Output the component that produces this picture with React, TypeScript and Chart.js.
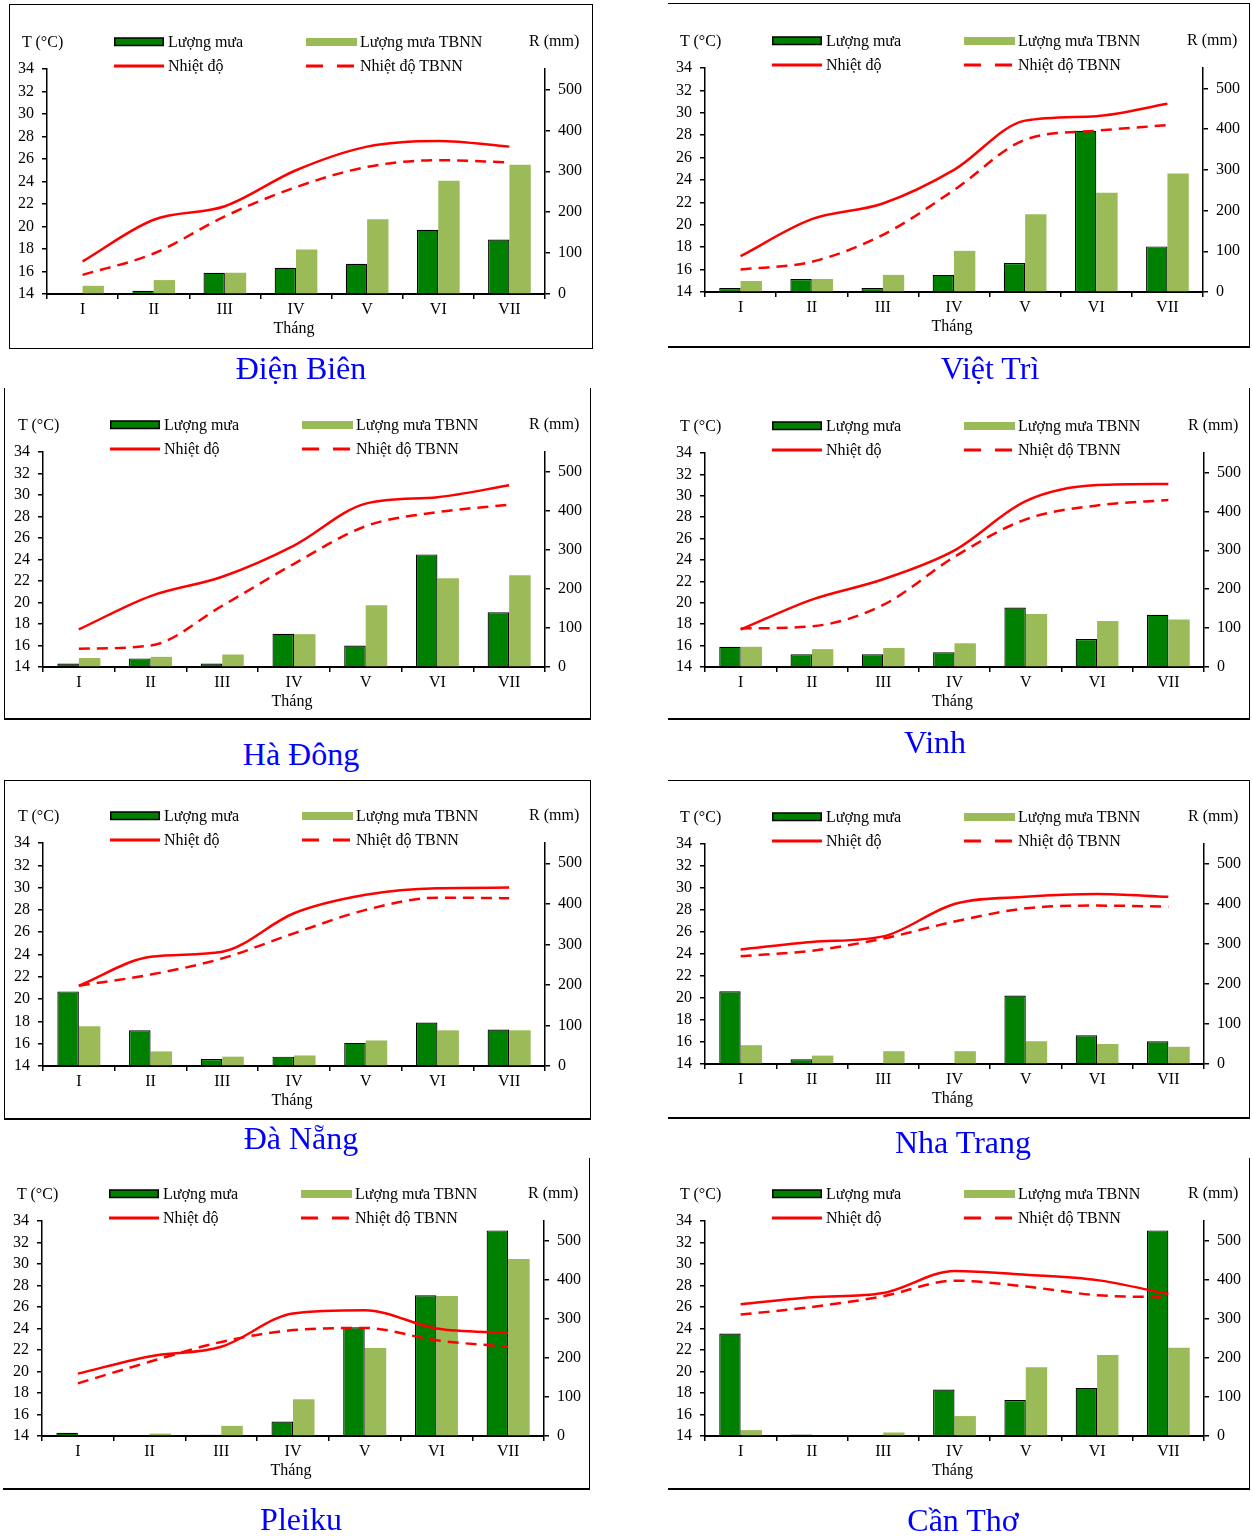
import React, { useEffect, useRef } from "react";
import { Chart, registerables } from "chart.js";

Chart.register(...registerables);

const months = ["I", "II", "III", "IV", "V", "VI", "VII"];

// Điện Biên
const dienBienRain = [0, 8, 52, 64, 74, 157, 133];
const dienBienRainNorm = [20, 34, 52, 109, 183, 277, 316];
const dienBienTemp = [16.9, 20.6, 21.8, 25.0, 27.1, 27.6, 27.1];
const dienBienTempNorm = [15.7, 17.6, 20.9, 23.5, 25.3, 25.9, 25.7];

// Việt Trì
const vietTriRain = [10, 32, 10, 42, 71, 396, 112];
const vietTriRainNorm = [27, 32, 42, 101, 191, 244, 291];
const vietTriTemp = [17.2, 20.5, 21.9, 24.9, 29.3, 29.7, 30.8];
const vietTriTempNorm = [16.0, 16.7, 19.1, 23.1, 27.6, 28.4, 28.9];

// Hà Đông
const haDongRain = [9, 22, 9, 85, 55, 288, 140];
const haDongRainNorm = [23, 26, 32, 84, 158, 227, 235];
const haDongTemp = [17.5, 20.6, 22.4, 25.3, 29.2, 29.8, 30.9];
const haDongTempNorm = [15.7, 16.0, 19.7, 23.6, 27.1, 28.4, 29.1];

// Vinh
const vinhRain = [52, 33, 33, 38, 153, 72, 134];
const vinhRainNorm = [52, 46, 49, 61, 136, 118, 122];
const vinhTemp = [17.5, 20.3, 22.2, 24.9, 29.5, 31.0, 31.1];
const vinhTempNorm = [17.6, 17.8, 19.8, 24.3, 27.8, 29.1, 29.6];

// Đà Nẵng
const daNangRain = [184, 88, 17, 23, 57, 107, 90];
const daNangRainNorm = [98, 36, 23, 26, 63, 88, 88];
const daNangTemp = [21.2, 23.8, 24.25, 27.7, 29.35, 29.95, 30.0];
const daNangTempNorm = [21.2, 22.2, 23.65, 25.9, 28.0, 29.1, 29.05];

// Nha Trang
const nhaTrangRain = [182, 12, 2, 2, 171, 72, 57];
const nhaTrangRainNorm = [47, 21, 32, 32, 57, 50, 43];
const nhaTrangTemp = [24.4, 25.1, 25.6, 28.55, 29.2, 29.45, 29.2];
const nhaTrangTempNorm = [23.8, 24.3, 25.4, 26.95, 28.15, 28.4, 28.3];

// Pleiku
const pleikuRain = [8, 0, 3, 37, 278, 360, 526];
const pleikuRainNorm = [0, 6, 26, 94, 225, 358, 453];
const pleikuTemp = [19.8, 21.4, 22.3, 25.4, 25.7, 24.0, 23.6];
const pleikuTempNorm = [18.9, 20.9, 22.75, 23.85, 24.05, 22.9, 22.3];

// Cần Thơ
const canThoRain = [262, 4, 0, 119, 92, 123, 526];
const canThoRainNorm = [15, 0, 9, 51, 176, 207, 226];
const canThoTemp = [26.25, 26.9, 27.3, 29.35, 29.0, 28.5, 27.2];
const canThoTempNorm = [25.3, 26.0, 27.0, 28.45, 27.9, 27.1, 26.9];

const stationNames = ["Điện Biên", "Việt Trì", "Hà Đông", "Vinh", "Đà Nẵng", "Nha Trang", "Pleiku", "Cần Thơ"];

type Station = { name: string; rain: number[]; rainNorm: number[]; temp: number[]; tempNorm: number[] };

const stations: Station[] = [
  { name: stationNames[0], rain: dienBienRain, rainNorm: dienBienRainNorm, temp: dienBienTemp, tempNorm: dienBienTempNorm },
  { name: stationNames[1], rain: vietTriRain, rainNorm: vietTriRainNorm, temp: vietTriTemp, tempNorm: vietTriTempNorm },
  { name: stationNames[2], rain: haDongRain, rainNorm: haDongRainNorm, temp: haDongTemp, tempNorm: haDongTempNorm },
  { name: stationNames[3], rain: vinhRain, rainNorm: vinhRainNorm, temp: vinhTemp, tempNorm: vinhTempNorm },
  { name: stationNames[4], rain: daNangRain, rainNorm: daNangRainNorm, temp: daNangTemp, tempNorm: daNangTempNorm },
  { name: stationNames[5], rain: nhaTrangRain, rainNorm: nhaTrangRainNorm, temp: nhaTrangTemp, tempNorm: nhaTrangTempNorm },
  { name: stationNames[6], rain: pleikuRain, rainNorm: pleikuRainNorm, temp: pleikuTemp, tempNorm: pleikuTempNorm },
  { name: stationNames[7], rain: canThoRain, rainNorm: canThoRainNorm, temp: canThoTemp, tempNorm: canThoTempNorm },
];

const legendLabels = ["Lượng mưa", "Lượng mưa TBNN", "Nhiệt độ", "Nhiệt độ TBNN"];
const tempAxisTitle = "T (°C)";
const rainAxisTitle = "R (mm)";
const xAxisTitle = "Tháng";

// Layout (page coordinates)
type Layout = {
  box: { x: number; y: number; w: number; h: number };
  plot: { l: number; r: number; t: number; b: number };
  borders: [number, number, number, number]; // top right bottom left
  title: { x: number; y: number };
};

const layouts: Layout[] = [
  { box: { x: 9, y: 4, w: 584, h: 345 }, plot: { l: 47, r: 545, t: 69, b: 294 }, borders: [1.5, 1.5, 1.5, 1.5], title: { x: 301, y: 368 } },
  { box: { x: 668, y: 3, w: 582, h: 345 }, plot: { l: 705, r: 1203, t: 68, b: 292 }, borders: [1.5, 1.5, 2.5, 0], title: { x: 990, y: 368 } },
  { box: { x: 4, y: 388, w: 587, h: 332 }, plot: { l: 43, r: 545, t: 452, b: 667 }, borders: [0, 1.5, 2.5, 1.5], title: { x: 301, y: 754 } },
  { box: { x: 668, y: 388, w: 582, h: 332 }, plot: { l: 705, r: 1204, t: 453, b: 667 }, borders: [0, 1.5, 2.5, 0], title: { x: 935, y: 742 } },
  { box: { x: 4, y: 780, w: 587, h: 340 }, plot: { l: 43, r: 545, t: 843, b: 1066 }, borders: [1.5, 1.5, 2.5, 1.5], title: { x: 301, y: 1138 } },
  { box: { x: 668, y: 780, w: 582, h: 339 }, plot: { l: 705, r: 1204, t: 844, b: 1064 }, borders: [1.5, 1.5, 2.5, 0], title: { x: 963, y: 1142 } },
  { box: { x: 3, y: 1158, w: 587, h: 332 }, plot: { l: 42, r: 544, t: 1221, b: 1436 }, borders: [0, 1.5, 2.5, 0], title: { x: 301, y: 1519 } },
  { box: { x: 668, y: 1158, w: 582, h: 332 }, plot: { l: 705, r: 1204, t: 1221, b: 1436 }, borders: [0, 1.5, 2.5, 0], title: { x: 963, y: 1520 } },
];

const FONT = "'Liberation Serif', 'Times New Roman', Times, serif";
const DARK = "#008000";
const LIGHT = "#9BBB59";
const RED = "#FF0000";

function Panel({ st, lay }: { st: Station; lay: Layout }) {
  const ref = useRef<HTMLCanvasElement>(null);
  const { box, plot } = lay;

  useEffect(() => {
    const leftW = plot.l - box.x;
    const rightW = box.x + box.w - plot.r;
    const bottomH = box.y + box.h - plot.b;
    const topPad = plot.t - box.y;
    const tickFont = { family: FONT, size: 16 };
    const chart = new Chart(ref.current as HTMLCanvasElement, {
      type: "bar",
      data: {
        labels: months,
        datasets: [
          {
            type: "line",
            label: legendLabels[2],
            data: st.temp,
            yAxisID: "yT",
            borderColor: RED,
            backgroundColor: RED,
            borderWidth: 2.5,
            pointRadius: 0,
            cubicInterpolationMode: "monotone",
            fill: false,
            order: 0,
          } as any,
          {
            type: "line",
            label: legendLabels[3],
            data: st.tempNorm,
            yAxisID: "yT",
            borderColor: RED,
            backgroundColor: RED,
            borderWidth: 2.5,
            borderDash: [11, 7],
            pointRadius: 0,
            cubicInterpolationMode: "monotone",
            fill: false,
            order: 1,
          } as any,
          {
            type: "bar",
            label: legendLabels[0],
            data: st.rain,
            yAxisID: "yR",
            backgroundColor: DARK,
            borderColor: "#000",
            borderWidth: (c: any) => (c.raw > 0 ? 1.2 : 0),
            categoryPercentage: 0.6,
            barPercentage: 1,
            order: 2,
          } as any,
          {
            type: "bar",
            label: legendLabels[1],
            data: st.rainNorm,
            yAxisID: "yR",
            backgroundColor: LIGHT,
            borderWidth: 0,
            categoryPercentage: 0.6,
            barPercentage: 1,
            order: 3,
          } as any,
        ],
      },
      options: {
        animation: false,
        responsive: false,
        maintainAspectRatio: false,
        layout: { padding: { top: topPad, left: 0, right: 0, bottom: 0 } },
        plugins: { legend: { display: false }, tooltip: { enabled: false } },
        scales: {
          x: {
            offset: true,
            grid: { offset: true, drawOnChartArea: false, drawTicks: true, tickLength: 5, color: "#000", lineWidth: 1.5 },
            border: { display: true, color: "#000", width: 2 },
            ticks: { color: "#000", font: tickFont, padding: 1, maxRotation: 0, autoSkip: false },
            afterFit: (s: any) => {
              s.height = bottomH;
            },
          },
          yT: {
            position: "left",
            min: 14,
            max: 34,
            ticks: { stepSize: 2, color: "#000", font: tickFont, padding: 8, autoSkip: false },
            grid: { drawOnChartArea: false, drawTicks: true, tickLength: 5, color: "#000", lineWidth: 1.5 },
            border: { display: true, color: "#000", width: 1.5 },
            afterFit: (s: any) => {
              s.width = leftW;
            },
          },
          yR: {
            position: "right",
            min: 0,
            max: 550,
            ticks: { stepSize: 100, color: "#000", font: tickFont, padding: 8, autoSkip: false },
            grid: { drawOnChartArea: false, drawTicks: true, tickLength: 5, color: "#000", lineWidth: 1.5 },
            border: { display: true, color: "#000", width: 1.5 },
            afterBuildTicks: (s: any) => {
              s.ticks = s.ticks.filter((t: any) => t.value % 100 === 0);
            },
            afterFit: (s: any) => {
              s.width = rightW;
            },
          },
        } as any,
      },
    });
    return () => chart.destroy();
  }, [st, lay]);

  const [bt, br, bb, bl] = lay.borders;
  const textStyle = (left: number, cy: number, extra: React.CSSProperties = {}): React.CSSProperties => ({
    position: "absolute",
    left,
    top: cy - 10,
    height: 20,
    lineHeight: "20px",
    fontFamily: FONT,
    fontSize: 16,
    color: "#000",
    whiteSpace: "nowrap",
    ...extra,
  });
  const row1 = plot.t - 27;
  const row2 = plot.t - 3;
  const L = plot.l;

  return (
    <>
      <div
        style={{
          position: "absolute",
          left: box.x,
          top: box.y,
          width: box.w,
          height: box.h,
          boxSizing: "border-box",
          borderTop: bt ? `${bt}px solid #000` : "none",
          borderRight: br ? `${br}px solid #000` : "none",
          borderBottom: bb ? `${bb}px solid #000` : "none",
          borderLeft: bl ? `${bl}px solid #000` : "none",
        }}
      />
      <canvas
        ref={ref}
        width={box.w}
        height={box.h}
        style={{ position: "absolute", left: box.x, top: box.y, width: box.w, height: box.h }}
      />
      <div style={textStyle(L - 25, row1)}>{tempAxisTitle}</div>
      <div style={textStyle(plot.r - 16, row1 - 1)}>{rainAxisTitle}</div>
      <svg style={{ position: "absolute", left: L + 67, top: row1 - 5 }} width={50} height={10}>
        <rect x={0.75} y={1} width={48.5} height={7.5} fill={DARK} stroke="#000" strokeWidth={1.5} />
      </svg>
      <div style={textStyle(L + 121, row1)}>{legendLabels[0]}</div>
      <svg style={{ position: "absolute", left: L + 259, top: row1 - 5 }} width={51} height={10}>
        <rect x={0} y={1} width={51} height={8} fill={LIGHT} />
      </svg>
      <div style={textStyle(L + 313, row1)}>{legendLabels[1]}</div>
      <svg style={{ position: "absolute", left: L + 67, top: row2 - 5 }} width={50} height={10}>
        <line x1={0} y1={5} x2={50} y2={5} stroke={RED} strokeWidth={3} />
      </svg>
      <div style={textStyle(L + 121, row2)}>{legendLabels[2]}</div>
      <svg style={{ position: "absolute", left: L + 259, top: row2 - 5 }} width={51} height={10}>
        <line x1={0} y1={5} x2={51} y2={5} stroke={RED} strokeWidth={3} strokeDasharray="17 14" />
      </svg>
      <div style={textStyle(L + 313, row2)}>{legendLabels[3]}</div>
      <div
        style={textStyle((plot.l + plot.r) / 2 - 60, plot.b + 34, { width: 116, textAlign: "center" })}
      >
        {xAxisTitle}
      </div>
      <div
        style={{
          position: "absolute",
          left: lay.title.x - 150,
          top: lay.title.y - 20,
          width: 300,
          height: 40,
          lineHeight: "40px",
          textAlign: "center",
          fontFamily: FONT,
          fontSize: 32,
          color: "#0000FF",
          whiteSpace: "nowrap",
        }}
      >
        {st.name}
      </div>
    </>
  );
}

export default function App() {
  return (
    <div style={{ position: "absolute", left: 0, top: 0, width: 1252, height: 1536, background: "#fff", overflow: "hidden" }}>
      {stations.map((st, i) => (
        <Panel key={st.name} st={st} lay={layouts[i]} />
      ))}
    </div>
  );
}
